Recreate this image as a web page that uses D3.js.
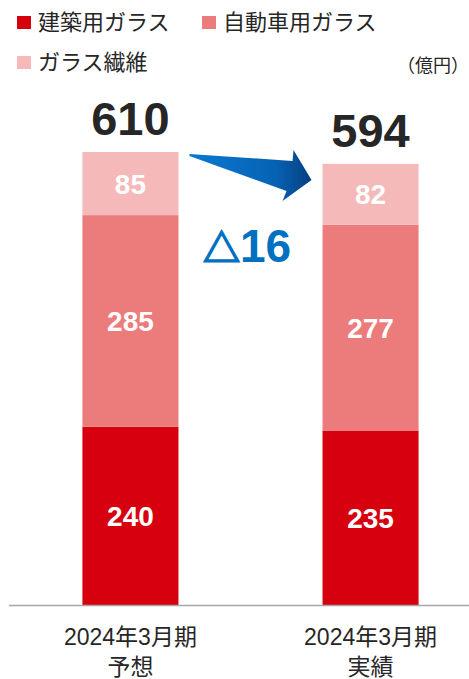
<html>
<head>
    <meta charset="utf-8">
    <script src="https://d3js.org/d3.v7.min.js"></script>
    <style>
        body { margin: 0; background: #fff; }
    </style>
</head>
<body>
    <svg id="s" width="469" height="679"></svg>
    <script>
        // data
        const categories = ["2024年3月期 予想", "2024年3月期 実績"]
        const categoryLines = [["2024年3月期", "予想"], ["2024年3月期", "実績"]]
        const seriesNames = ["建築用ガラス", "自動車用ガラス", "ガラス繊維"]
        const architectural = [240, 235]
        const automotive = [285, 277]
        const fiber = [85, 82]
        const totals = [610, 594]
        const diffMark = "△"
        const diffValue = "16"
        const unitLabel = "（億円）"

        const COLORS = ["#d7000f", "#ec7b7b", "#f5b9b9"]
        const JP = "'Liberation Sans', 'Noto Sans CJK JP', sans-serif"

        const svg = d3.select("svg")

        const rows = categories.map((c, i) => ({
            cat: c,
            s0: architectural[i],
            s1: automotive[i],
            s2: fiber[i]
        }))

        const stack = d3.stack().keys(["s0", "s1", "s2"])
        const layers = stack(rows)

        const x = d3.scaleBand()
            .domain(categories)
            .range([32, 469])
            .paddingInner(0.6)
            .paddingOuter(0.21)

        const y = d3.scaleLinear()
            .domain([0, 610])
            .range([605, 152])

        // bars
        const layerG = svg.selectAll("g.layer")
            .data(layers)
            .enter().append("g")
            .attr("class", "layer")
            .attr("fill", (d, i) => COLORS[i])

        layerG.selectAll("rect")
            .data(d => d)
            .enter().append("rect")
            .attr("x", d => x(d.data.cat))
            .attr("y", d => y(d[1]))
            .attr("width", x.bandwidth())
            .attr("height", d => y(d[0]) - y(d[1]))

        // segment labels
        layerG.selectAll("text")
            .data(d => d)
            .enter().append("text")
            .attr("x", d => x(d.data.cat) + x.bandwidth() / 2)
            .attr("y", d => (y(d[0]) + y(d[1])) / 2)
            .attr("dy", "0.36em")
            .attr("text-anchor", "middle")
            .attr("font-family", "'Liberation Sans', Arial, sans-serif")
            .attr("font-weight", "bold")
            .attr("font-size", "28px")
            .attr("fill", "#fff")
            .text(d => d[1] - d[0])

        // totals
        svg.selectAll("text.total")
            .data(totals)
            .enter().append("text")
            .attr("class", "total")
            .attr("x", (d, i) => x(categories[i]) + x.bandwidth() / 2)
            .attr("y", d => y(d) - 17)
            .attr("text-anchor", "middle")
            .attr("font-family", "'Liberation Sans', Arial, sans-serif")
            .attr("font-weight", "bold")
            .attr("font-size", "47px")
            .attr("fill", "#262626")
            .text(d => d)

        // baseline
        svg.append("line")
            .attr("x1", 9).attr("x2", 469)
            .attr("y1", y(0) + 0.5).attr("y2", y(0) + 0.5)
            .attr("stroke", "#a6a6a6")
            .attr("stroke-width", 1.5)

        // category labels
        categoryLines.forEach((lines, i) => {
            const t = svg.append("text")
                .attr("text-anchor", "middle")
                .attr("font-family", JP)
                .attr("font-size", "23px")
                .attr("fill", "#262626")
            lines.forEach((ln, j) => {
                t.append("tspan")
                    .attr("x", x(categories[i]) + x.bandwidth() / 2)
                    .attr("y", 645 + j * 30)
                    .text(ln)
            })
        })

        // arrow between the bar tops
        const defs = svg.append("defs")
        const grad = defs.append("linearGradient")
            .attr("id", "arrowGrad")
            .attr("x1", "0%").attr("x2", "100%")
            .attr("y1", "0%").attr("y2", "0%")
        grad.append("stop").attr("offset", "0%").attr("stop-color", "#0a78d2")
        grad.append("stop").attr("offset", "70%").attr("stop-color", "#0663b4")
        grad.append("stop").attr("offset", "100%").attr("stop-color", "#063f80")

        const ax0 = x(categories[0]) + x.bandwidth() + 11
        const ay0 = y(totals[0]) + 3
        const ax1 = x(categories[1]) - 11
        const ay1 = y(totals[1]) + 16
        const arrowPts = [
            [ax0, ay0 - 1],
            [ax1 - 19, ay1 - 19],
            [ax1 - 18, ay1 - 30],
            [ax1, ay1],
            [ax1 - 29, ay1 + 21],
            [ax1 - 25, ay1 + 11],
            [ax0, ay0 + 1]
        ]
        svg.append("path")
            .attr("d", d3.line()(arrowPts) + "Z")
            .attr("fill", "url(#arrowGrad)")

        // difference label
        const diff = svg.append("text")
            .attr("x", 203)
            .attr("y", 262)
            .attr("fill", "#0070c0")
            .attr("font-weight", "bold")
        diff.append("tspan")
            .attr("font-family", "'Noto Sans CJK JP', sans-serif")
            .attr("font-size", "37px")
            .attr("stroke", "#0070c0")
            .attr("stroke-width", 1.6)
            .text(diffMark)
        diff.append("tspan")
            .attr("font-family", "'Liberation Sans', Arial, sans-serif")
            .attr("font-size", "46px")
            .text(diffValue)

        // legend
        const legendPos = [[17, 22], [202, 22], [17, 62]]
        seriesNames.forEach((name, i) => {
            const [lx, ly] = legendPos[i]
            svg.append("rect")
                .attr("x", lx).attr("y", ly - 6)
                .attr("width", 14).attr("height", 13)
                .attr("fill", COLORS[i])
            svg.append("text")
                .attr("x", lx + 21)
                .attr("y", ly + 8)
                .attr("font-family", JP)
                .attr("font-size", "22px")
                .attr("fill", "#262626")
                .text(name)
        })

        svg.append("text")
            .attr("x", 469)
            .attr("y", 72)
            .attr("text-anchor", "end")
            .attr("font-family", JP)
            .attr("font-size", "18px")
            .attr("fill", "#262626")
            .text(unitLabel)
    </script>
</body>
</html>
